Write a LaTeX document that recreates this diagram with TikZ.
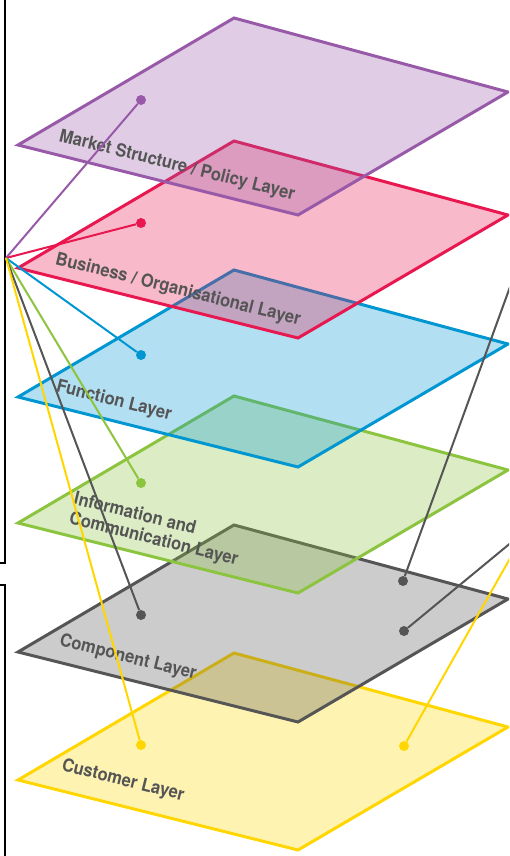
\documentclass[tikz,border=0pt]{standalone}
\usepackage{fontspec}
\newfontfamily\layerfont[FakeStretch=0.92]{TeX Gyre Heros}

\definecolor{mkt}{RGB}{152,90,168}
\definecolor{bus}{RGB}{232,23,79}
\definecolor{fun}{RGB}{0,150,210}
\definecolor{inf}{RGB}{140,196,64}
\definecolor{cmp}{RGB}{85,85,85}
\definecolor{cst}{RGB}{255,214,0}
\definecolor{lbl}{RGB}{85,85,85}

\tikzset{
  layer/.style={draw=#1, fill=#1, fill opacity=0.3, line width=3pt, line join=miter},
  link/.style={draw=#1, line width=2pt},
  dot/.style={circle, fill=#1, inner sep=0pt, minimum size=10pt},
  lname/.style={text=lbl, font=\layerfont\bfseries\fontsize{18}{20}\selectfont, rotate=-14, align=left},
}

\begin{document}
\begin{tikzpicture}[x=1pt,y=-1pt]
\useasboundingbox (0,0) rectangle (509,856);
\clip (0,0) rectangle (509,856);

% layers, bottom one first
\draw[layer=cst] (234,653) -- (508,727) -- (298,850) -- (18,780) -- cycle;
\draw[layer=cmp] (234,525) -- (508,599) -- (298,722) -- (18,652) -- cycle;
\draw[layer=inf] (234,396) -- (508,470) -- (298,593) -- (18,523) -- cycle;
\draw[layer=fun] (234,270) -- (508,344) -- (298,467) -- (18,397) -- cycle;
\draw[layer=bus] (234,141) -- (508,215) -- (298,338) -- (18,268) -- cycle;
\draw[layer=mkt] (234,18) -- (508,92) -- (298,215) -- (18,145) -- cycle;

% layer names
\node[lname] (tmkt) at (177,166) {Market Structure / Policy Layer};
\node[lname] (tbus) at (178,290) {Business / Organisational Layer};
\node[lname] (tfun) at (114,401) {Function Layer};
\node[lname] (tinf) at (156,530) {Information and\\Communication Layer};
\node[lname] (tcmp) at (128,658) {Component Layer};
\node[lname] (tcst) at (123,781) {Customer Layer};

% brackets on the left
\draw[line width=2pt] (4.5,-4) -- (4.5,563) -- (-4,563);
\draw[line width=2pt] (-4,585) -- (4.5,585) -- (4.5,860);

% hub and dots
\coordinate (hub) at (6,258);
\node[dot=mkt] (dmkt) at (141,100) {};
\node[dot=bus] (dbus) at (141,223) {};
\node[dot=fun] (dfun) at (141,355) {};
\node[dot=inf] (dinf) at (141,483) {};
\node[dot=cmp] (dcmp) at (141,615) {};
\node[dot=cst] (dcst) at (141,745) {};
\node[dot=cmp] (rcmpa) at (403,581) {};
\node[dot=cmp] (rcmpb) at (404,631) {};
\node[dot=cst] (rcst) at (404,746) {};
\coordinate (ecmpa) at (530,232);
\coordinate (ecmpb) at (530,527);
\coordinate (ecst) at (530,523);

% links
\draw[link=mkt] (hub) -- (dmkt);
\draw[link=bus] (hub) -- (dbus);
\draw[link=fun] (hub) -- (dfun);
\draw[link=inf] (hub) -- (dinf);
\draw[link=cmp] (hub) -- (dcmp);
\draw[link=cst] (hub) -- (dcst);
\draw[link=cmp] (rcmpa) -- (ecmpa);
\draw[link=cmp] (rcmpb) -- (ecmpb);
\draw[link=cst] (rcst) -- (ecst);
\end{tikzpicture}
\end{document}
